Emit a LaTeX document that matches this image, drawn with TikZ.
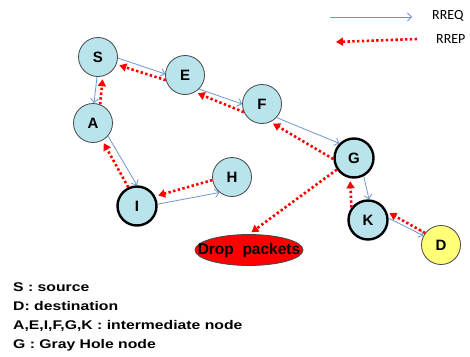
\documentclass[tikz,border=0pt]{standalone}
\usepackage{fontspec}
\setmainfont{Liberation Sans}
\newfontfamily\calfont{Carlito}
\newfontfamily\widefont[FakeStretch=1.25]{Liberation Sans}
\usetikzlibrary{arrows.meta,shapes.geometric}
\definecolor{reqblue}{RGB}{110,150,210}
\definecolor{nodecyan}{RGB}{185,228,236}
\definecolor{rimgray}{RGB}{70,70,70}
\definecolor{dstyellow}{RGB}{255,255,120}
\begin{document}
\begin{tikzpicture}[x=1pt,y=-1pt,
  host/.style={circle, minimum size=39pt, inner sep=0pt, fill=nodecyan,
    draw=rimgray, line width=0.8pt, font=\bfseries\fontsize{15}{15}\selectfont},
  grayhole/.style={host, draw=black, line width=2.4pt},
  dest/.style={host, fill=dstyellow},
  req/.style={draw=reqblue, line width=0.8pt, -{Straight Barb[length=4pt,width=8pt]}},
  rep/.style={draw=red, line width=2.6pt, dash pattern=on 2.4pt off 2.4pt,
    -{Triangle[length=7pt,width=8pt]}, shorten >=3pt},
  keytext/.style={anchor=base west, inner sep=0pt, font=\widefont\bfseries\fontsize{12.6}{12.6}\selectfont},
]
\useasboundingbox (0,0) rectangle (470,356);

% network nodes
\node[host] (S) at (98,57) {S};
\node[host] (E) at (185,75) {E};
\node[host] (A) at (93,123) {A};
\node[host] (F) at (262,104) {F};
\node[host] (H) at (232,177) {H};
\node[grayhole] (I) at (137,206) {I};
\node[grayhole] (G) at (354,158) {G};
\node[grayhole] (K) at (368,220) {K};
\node[dest] (D) at (441,245) {D};

% drop sink
\node[ellipse, fill=red, draw=rimgray, line width=0.8pt, minimum width=108pt,
  minimum height=31pt, inner sep=0pt] (drop) at (249,250) {};
\node[font=\bfseries\fontsize{15.5}{15.5}\selectfont, inner sep=0pt] (droptext) at (drop) {Drop\ \ packets};

% route requests
\draw[req] (S.-3) -- (E.177);
\draw[req] (S.-93) -- (A.87);
\draw[req] (E.-45) -- (F.180);
\draw[req] (F.-43) -- (G.135);
\draw[req] (A.-41) -- (I.90);
\draw[req] (I.5) -- (H.231);
\draw[req] (G.-62) -- (K.87);
\draw[req] (K.5) -- (D.152);

% route replies
\draw[rep] (E.195) -- (S.-22);
\draw[rep] (A.69) -- (S.-76);
\draw[rep] (F.204) -- (E.-60);
\draw[rep] (G.183) -- (F.-65);
\draw[rep] (I.115) -- (A.-62);
\draw[rep] (H.189) -- (I.28);
\draw[rep] (K.143) -- (G.-101);
\draw[rep] (D.143) -- (K.24);
\draw[rep] (G.214) -- (drop.north);

% legend
\coordinate (reqa) at (330,17);
\coordinate (reqb) at (412,17);
\draw[req] (reqa) -- (reqb);
\node[anchor=base west, inner sep=0pt, font=\calfont\fontsize{14}{14}\selectfont] (reqlbl) at (432,19) {RREQ};
\coordinate (repa) at (417,39);
\coordinate (repb) at (336,42);
\draw[rep, shorten >=0pt] (repa) -- (repb);
\node[anchor=base west, inner sep=0pt, font=\calfont\fontsize{14}{14}\selectfont] (replbl) at (436,43) {RREP};

\node[keytext] (k1) at (13,291) {S : source};
\node[keytext] (k2) at (13,310) {D: destination};
\node[keytext] (k3) at (13,329) {A,E,I,F,G,K : intermediate node};
\node[keytext] (k4) at (13,348) {G : Gray Hole node};
\end{tikzpicture}
\end{document}
